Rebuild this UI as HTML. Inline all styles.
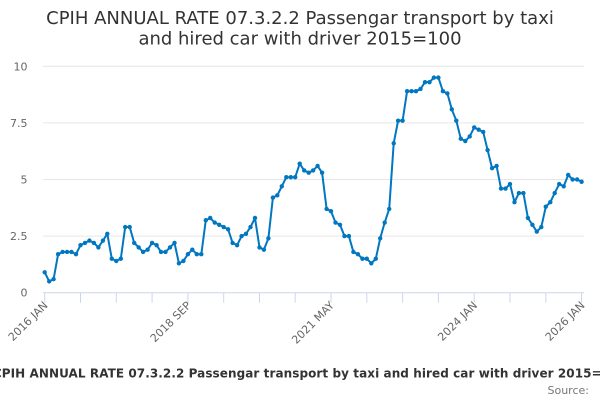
<!DOCTYPE html>
<html>
<head>
<meta charset="utf-8">
<style>
html,body{margin:0;padding:0;background:#fff;}
svg{display:block;}
text{font-family:"DejaVu Sans","Liberation Sans",sans-serif;}
</style>
</head>
<body>
<svg width="600" height="400" viewBox="0 0 600 400" xmlns="http://www.w3.org/2000/svg">
<rect x="0" y="0" width="600" height="400" fill="#fff"/>
<!-- title -->
<text x="300" y="24" text-anchor="middle" font-size="18" fill="#333">CPIH ANNUAL RATE 07.3.2.2 Passengar transport by taxi</text>
<text x="300" y="44.5" text-anchor="middle" font-size="18" fill="#333">and hired car with driver 2015=100</text>
<!-- grid -->
<g stroke="#e6e6e6" stroke-width="1">
<line x1="43" y1="66.3" x2="584" y2="66.3"/>
<line x1="43" y1="122.9" x2="584" y2="122.9"/>
<line x1="43" y1="179.5" x2="584" y2="179.5"/>
<line x1="43" y1="236.1" x2="584" y2="236.1"/>
</g>
<!-- y labels -->
<g font-size="11" fill="#666" text-anchor="end">
<text x="27.5" y="70.3">10</text>
<text x="27.5" y="126.9">7.5</text>
<text x="27.5" y="183.5">5</text>
<text x="27.5" y="240.1">2.5</text>
<text x="27.5" y="296.7">0</text>
</g>
<!-- x axis -->
<line x1="43" y1="292.7" x2="584" y2="292.7" stroke="#ccd6eb" stroke-width="1"/>
<g stroke="#ccd6eb" stroke-width="1">
<line x1="44.7" y1="292.7" x2="44.7" y2="302.7"/>
<line x1="80.5" y1="292.7" x2="80.5" y2="302.7"/>
<line x1="116.3" y1="292.7" x2="116.3" y2="302.7"/>
<line x1="152.1" y1="292.7" x2="152.1" y2="302.7"/>
<line x1="187.9" y1="292.7" x2="187.9" y2="302.7"/>
<line x1="223.7" y1="292.7" x2="223.7" y2="302.7"/>
<line x1="259.5" y1="292.7" x2="259.5" y2="302.7"/>
<line x1="295.2" y1="292.7" x2="295.2" y2="302.7"/>
<line x1="331.0" y1="292.7" x2="331.0" y2="302.7"/>
<line x1="366.8" y1="292.7" x2="366.8" y2="302.7"/>
<line x1="402.6" y1="292.7" x2="402.6" y2="302.7"/>
<line x1="438.4" y1="292.7" x2="438.4" y2="302.7"/>
<line x1="474.2" y1="292.7" x2="474.2" y2="302.7"/>
<line x1="510.0" y1="292.7" x2="510.0" y2="302.7"/>
<line x1="545.8" y1="292.7" x2="545.8" y2="302.7"/>
<line x1="581.6" y1="292.7" x2="581.6" y2="302.7"/>
</g>
<g font-size="11" fill="#666" text-anchor="end">
<text x="48.5" y="306" transform="rotate(-45 48.5 306)">2016 JAN</text>
<text x="191.7" y="306" transform="rotate(-45 191.7 306)">2018 SEP</text>
<text x="334.8" y="306" transform="rotate(-45 334.8 306)">2021 MAY</text>
<text x="478" y="306" transform="rotate(-45 478 306)">2024 JAN</text>
<text x="585.4" y="306" transform="rotate(-45 585.4 306)">2026 JAN</text>
</g>
<!-- series -->
<defs>
<marker id="dot" markerWidth="6" markerHeight="6" refX="3" refY="3" markerUnits="userSpaceOnUse">
<circle cx="3" cy="3" r="2.2" fill="#0077c0"/>
</marker>
</defs>
<polyline fill="none" stroke="#0077c0" stroke-width="2" stroke-linejoin="round" stroke-linecap="round"
marker-start="url(#dot)" marker-mid="url(#dot)" marker-end="url(#dot)"
points="44.7,272.32 49.2,281.38 53.6,279.12 58.1,254.21 62.6,251.95 67.1,251.95 71.5,251.95 76.0,254.21 80.5,245.16 85.0,242.89 89.4,240.63 93.9,242.89
98.4,247.42 102.9,240.63 107.3,233.84 111.8,258.74 116.3,261.00 120.8,258.74 125.2,227.04 129.7,227.04 134.2,242.89 138.7,247.42 143.1,251.95 147.6,249.68
152.1,242.89 156.6,245.16 161.0,251.95 165.5,251.95 170.0,247.42 174.5,242.89 178.9,263.27 183.4,261.00 187.9,254.21 192.3,249.68 196.8,254.21 201.3,254.21
205.8,220.25 210.2,217.99 214.7,222.52 219.2,224.78 223.7,227.04 228.1,229.31 232.6,242.89 237.1,245.16 241.6,236.10 246.0,233.84 250.5,227.04 255.0,217.99
259.5,247.42 263.9,249.68 268.4,238.36 272.9,197.61 277.3,195.35 281.8,186.29 286.3,177.24 290.8,177.24 295.2,177.24 299.7,163.65 304.2,170.44 308.7,172.71
313.1,170.44 317.6,165.92 322.1,172.71 326.6,208.93 331.0,211.20 335.5,222.52 340.0,224.78 344.5,236.10 348.9,236.10 353.4,251.95 357.9,254.21 362.4,258.74
366.8,258.74 371.3,263.27 375.8,258.74 380.2,238.36 384.7,222.52 389.2,208.93 393.7,143.28 398.1,120.64 402.6,120.64 407.1,91.20 411.6,91.20 416.0,91.20
420.5,88.94 425.0,82.15 429.5,82.15 433.9,77.62 438.4,77.62 442.9,91.20 447.4,93.47 451.8,109.32 456.3,120.64 460.8,138.75 465.3,141.01 469.7,136.48
474.2,127.43 478.7,129.69 483.2,131.96 487.6,150.07 492.1,168.18 496.6,165.92 501.0,188.56 505.5,188.56 510.0,184.03 514.5,202.14 518.9,193.08 523.4,193.08
527.9,217.99 532.4,224.78 536.8,231.57 541.3,227.04 545.8,206.67 550.3,202.14 554.7,193.08 559.2,184.03 563.7,186.29 568.2,174.97 572.6,179.50 577.1,179.50
581.6,181.76"/>
<!-- legend -->
<text x="-7.1" y="377.5" font-size="12" font-weight="bold" fill="#333" textLength="634" lengthAdjust="spacing">CPIH ANNUAL RATE 07.3.2.2 Passengar transport by taxi and hired car with driver 2015=100</text>
<!-- credits -->
<text x="589" y="394" text-anchor="end" font-size="11" fill="#777">Source:</text>
</svg>
</body>
</html>
